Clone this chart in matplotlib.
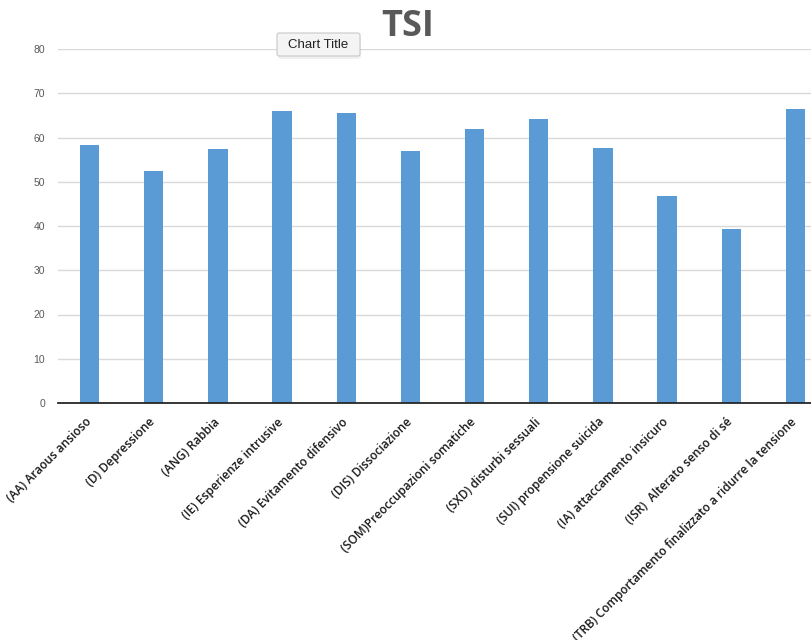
import matplotlib
matplotlib.use("Agg")
import matplotlib.pyplot as plt
from matplotlib.patches import FancyBboxPatch
from matplotlib.transforms import ScaledTranslation

categories = [
    "(AA) Araous ansioso",
    "(D) Depressione",
    "(ANG) Rabbia",
    "(IE) Esperienze intrusive",
    "(DA) Evitamento difensivo",
    "(DIS) Dissociazione",
    "(SOM)Preoccupazioni somatiche",
    "(SXD) disturbi sessuali",
    "(SUI) propensione suicida",
    "(IA) attaccamento insicuro",
    "(ISR)  Alterato senso di sé",
    "(TRB) Comportamento finalizzato a ridurre la tensione",
]
values = [58.2, 52.5, 57.3, 65.9, 65.6, 56.9, 62.0, 64.1, 57.6, 46.8, 39.3, 66.5]
y_ticks = [0, 10, 20, 30, 40, 50, 60, 70, 80]

W, H = 811, 640
fig = plt.figure(figsize=(W / 100, H / 100), dpi=100)
fig.patch.set_facecolor("white")

# plot area runs past the right edge of the canvas
left_px, right_px = 57.5, 827.5
top_px, bottom_px = 49, 403
ax = fig.add_axes([left_px / W, 1 - bottom_px / H,
                   (right_px - left_px) / W, (bottom_px - top_px) / H])

x = list(range(len(categories)))
ax.bar(x, values, width=0.3, color="#5B9BD5", zorder=3)
ax.set_xlim(-0.5, len(categories) - 0.5)
ax.set_ylim(0, 80)
ax.set_yticks(y_ticks)
ax.set_yticklabels([str(t) for t in y_ticks], fontsize=7.5, color="#595959",
                   family="Liberation Sans")
ax.tick_params(axis="y", length=0, pad=9)
ax.yaxis.grid(True, color="#d9d9d9", linewidth=1, zorder=0)
ax.set_axisbelow(True)

for side in ("left", "right", "top"):
    ax.spines[side].set_visible(False)
ax.spines["bottom"].set_color("#262626")
ax.spines["bottom"].set_linewidth(1.3)
ax.spines["bottom"].set_zorder(4)

ax.set_xticks(x)
ax.set_xticklabels(categories, rotation=45, ha="right", va="top",
                   rotation_mode="anchor", fontsize=8.6, color="#1a1a1a",
                   family="Open Sans", fontweight="semibold")
ax.tick_params(axis="x", length=0, pad=9)
shift = ScaledTranslation(-5 / 100, 0, fig.dpi_scale_trans)
for lbl in ax.get_xticklabels():
    lbl.set_transform(lbl.get_transform() + shift)

# title
fig.text(408 / W, 1 - 27 / H, "TSI", ha="center", va="center",
         fontsize=26, fontweight="bold", color="#595959", family="Open Sans")

# hover tooltip box
tip_x, tip_y, tip_w, tip_h = 277, 33, 83, 23
shadow = FancyBboxPatch(((tip_x + 1) / W, 1 - (tip_y + tip_h + 3) / H),
                        tip_w / W, tip_h / H,
                        boxstyle="round,pad=0,rounding_size=0.004",
                        transform=fig.transFigure, facecolor="#000000",
                        alpha=0.06, edgecolor="none", zorder=9)
fig.patches.append(shadow)
tip = FancyBboxPatch((tip_x / W, 1 - (tip_y + tip_h) / H), tip_w / W, tip_h / H,
                     boxstyle="round,pad=0,rounding_size=0.003",
                     transform=fig.transFigure, facecolor="#f4f4f4",
                     edgecolor="#c8c8c8", linewidth=0.8, zorder=10)
fig.patches.append(tip)
fig.text((tip_x + tip_w / 2) / W, 1 - (tip_y + tip_h / 2) / H, "Chart Title",
         ha="center", va="center", fontsize=9.5, color="#222222",
         family="Liberation Sans", zorder=11)

fig.savefig("out.png", dpi=100)
